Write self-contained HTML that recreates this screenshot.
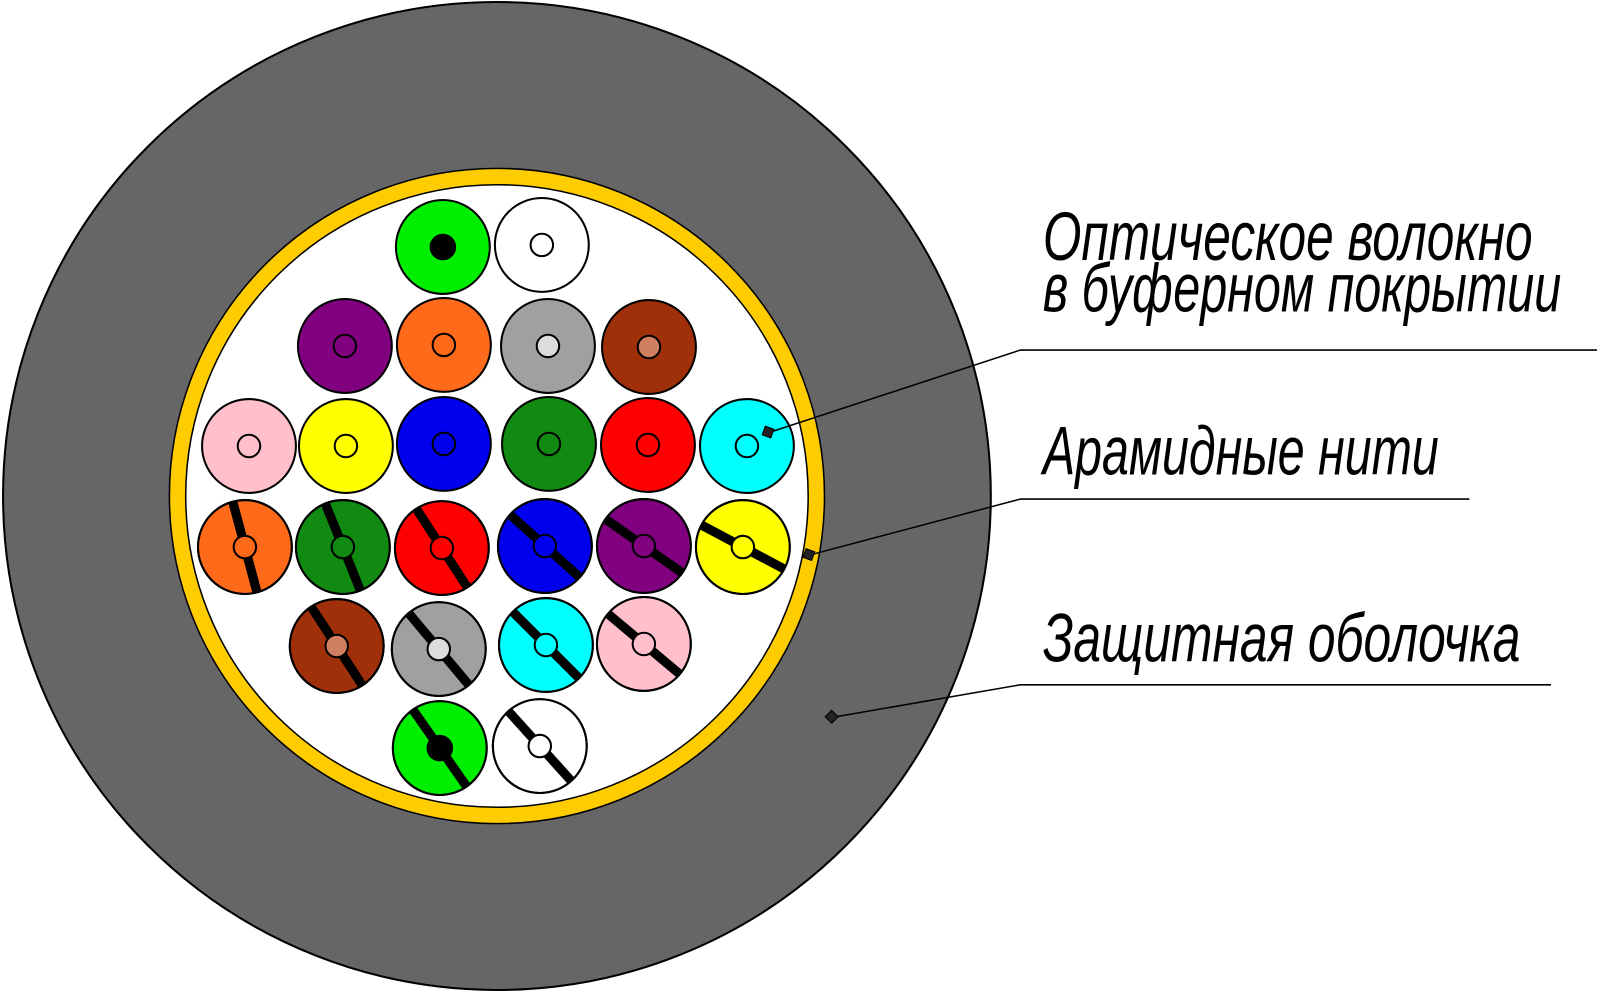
<!DOCTYPE html>
<html><head><meta charset="utf-8"><style>html,body{margin:0;padding:0;background:#fff}svg{display:block}</style></head>
<body>
<svg width="1600" height="992" viewBox="0 0 1568 972" preserveAspectRatio="none" xmlns="http://www.w3.org/2000/svg">
<rect width="1568" height="972" fill="#fff"/>
<circle cx="487" cy="486" r="484" fill="#666" stroke="#000" stroke-width="2"/>
<circle cx="487" cy="486" r="321" fill="#FFCC00" stroke="#000" stroke-width="1.5"/>
<circle cx="487" cy="486" r="305" fill="#fff" stroke="#000" stroke-width="1.5"/>
<defs>
<clipPath id="c"><circle r="46"/></clipPath>
</defs>
<g stroke="#000" stroke-width="2">
<g transform="translate(434,242)"><circle r="46" fill="#00EE00"/><circle r="12" fill="#000"/></g>
<g transform="translate(531,240)"><circle r="46" fill="#fff"/><circle r="11" fill="#fff"/></g>
<g transform="translate(338,339)"><circle r="46" fill="#800080"/><circle r="11" fill="#800080"/></g>
<g transform="translate(435,338)"><circle r="46" fill="#FF6A1A"/><circle r="11" fill="#FF6A1A"/></g>
<g transform="translate(537,339)"><circle r="46" fill="#A0A0A0"/><circle r="11" fill="#DCDCDC"/></g>
<g transform="translate(636,340)"><circle r="46" fill="#A0300A"/><circle r="11" fill="#D08060"/></g>
<g transform="translate(244,437)"><circle r="46" fill="#FFC0CB"/><circle r="11" fill="#FFC0CB"/></g>
<g transform="translate(339,437)"><circle r="46" fill="#FFFF00"/><circle r="11" fill="#FFFF00"/></g>
<g transform="translate(435,435)"><circle r="46" fill="#0000EE"/><circle r="11" fill="#0000EE"/></g>
<g transform="translate(538,435)"><circle r="46" fill="#108A10"/><circle r="11" fill="#108A10"/></g>
<g transform="translate(635,436)"><circle r="46" fill="#FF0000"/><circle r="11" fill="#FF0000"/></g>
<g transform="translate(732,437)"><circle r="46" fill="#00FFFF"/><circle r="11" fill="#00FFFF"/></g>
</g>
<g stroke="#000" stroke-width="2">
<g transform="translate(240,536)"><circle r="46" fill="#FF6A1A"/><line x1="0" y1="-48" x2="0" y2="48" stroke-width="9" transform="rotate(-15)" clip-path="url(#c)"/><circle r="11" fill="#FF6A1A"/><circle r="46" fill="none"/></g>
<g transform="translate(336,536)"><circle r="46" fill="#108A10"/><line x1="0" y1="-48" x2="0" y2="48" stroke-width="9" transform="rotate(-22)" clip-path="url(#c)"/><circle r="11" fill="#108A10"/><circle r="46" fill="none"/></g>
<g transform="translate(433,537)"><circle r="46" fill="#FF0000"/><line x1="0" y1="-48" x2="0" y2="48" stroke-width="9" transform="rotate(-33)" clip-path="url(#c)"/><circle r="11" fill="#FF0000"/><circle r="46" fill="none"/></g>
<g transform="translate(534,535)"><circle r="46" fill="#0000EE"/><line x1="0" y1="-48" x2="0" y2="48" stroke-width="9" transform="rotate(-48)" clip-path="url(#c)"/><circle r="11" fill="#0000EE"/><circle r="46" fill="none"/></g>
<g transform="translate(631,535)"><circle r="46" fill="#800080"/><line x1="0" y1="-48" x2="0" y2="48" stroke-width="9" transform="rotate(-55)" clip-path="url(#c)"/><circle r="11" fill="#800080"/><circle r="46" fill="none"/></g>
<g transform="translate(728,536)"><circle r="46" fill="#FFFF00"/><line x1="0" y1="-48" x2="0" y2="48" stroke-width="9" transform="rotate(-62)" clip-path="url(#c)"/><circle r="11" fill="#FFFF00"/><circle r="46" fill="none"/></g>
<g transform="translate(330,633)"><circle r="46" fill="#A0300A"/><line x1="0" y1="-48" x2="0" y2="48" stroke-width="9" transform="rotate(-33)" clip-path="url(#c)"/><circle r="11" fill="#D08060"/><circle r="46" fill="none"/></g>
<g transform="translate(430,636)"><circle r="46" fill="#A0A0A0"/><line x1="0" y1="-48" x2="0" y2="48" stroke-width="9" transform="rotate(-40)" clip-path="url(#c)"/><circle r="11" fill="#DCDCDC"/><circle r="46" fill="none"/></g>
<g transform="translate(535,632)"><circle r="46" fill="#00FFFF"/><line x1="0" y1="-48" x2="0" y2="48" stroke-width="9" transform="rotate(-45)" clip-path="url(#c)"/><circle r="11" fill="#00FFFF"/><circle r="46" fill="none"/></g>
<g transform="translate(631,631)"><circle r="46" fill="#FFC0CB"/><line x1="0" y1="-48" x2="0" y2="48" stroke-width="9" transform="rotate(-50)" clip-path="url(#c)"/><circle r="11" fill="#FFC0CB"/><circle r="46" fill="none"/></g>
<g transform="translate(431,733)"><circle r="46" fill="#00EE00"/><line x1="0" y1="-48" x2="0" y2="48" stroke-width="9" transform="rotate(-35)" clip-path="url(#c)"/><circle r="12" fill="#000"/><circle r="46" fill="none"/></g>
<g transform="translate(529,731)"><circle r="46" fill="#fff"/><line x1="0" y1="-48" x2="0" y2="48" stroke-width="9" transform="rotate(-42)" clip-path="url(#c)"/><circle r="11" fill="#fff"/><circle r="46" fill="none"/></g>
</g>
<g stroke="#000" stroke-width="1.5" fill="none">
<polyline points="753,424 1000,343 1565,343"/>
<polyline points="793,544 1000,489 1440,489"/>
<polyline points="815,703 1000,671 1520,671"/>
</g>
<g fill="#222" stroke="#000" stroke-width="1">
<rect x="748" y="419" width="9" height="9" transform="rotate(20 753 424)"/>
<rect x="788" y="539" width="9" height="9" transform="rotate(20 793 544)"/>
<rect x="810" y="698" width="9" height="9" transform="rotate(45 815 703)"/>
</g>
<g font-family="'Liberation Sans', sans-serif" font-style="italic" fill="#000" font-size="48">
<text x="1022" y="255" textLength="480" lengthAdjust="spacingAndGlyphs" transform="translate(0,-102) scale(1,1.4)">Оптическое волокно</text>
<text x="1022" y="305" textLength="508" lengthAdjust="spacingAndGlyphs" transform="translate(0,-122) scale(1,1.4)">в буферном покрытии</text>
<text x="1022" y="465" textLength="388" lengthAdjust="spacingAndGlyphs" transform="translate(0,-186) scale(1,1.4)">Арамидные нити</text>
<text x="1022" y="648" textLength="468" lengthAdjust="spacingAndGlyphs" transform="translate(0,-259.2) scale(1,1.4)">Защитная оболочка</text>
</g>
</svg>
</body></html>
